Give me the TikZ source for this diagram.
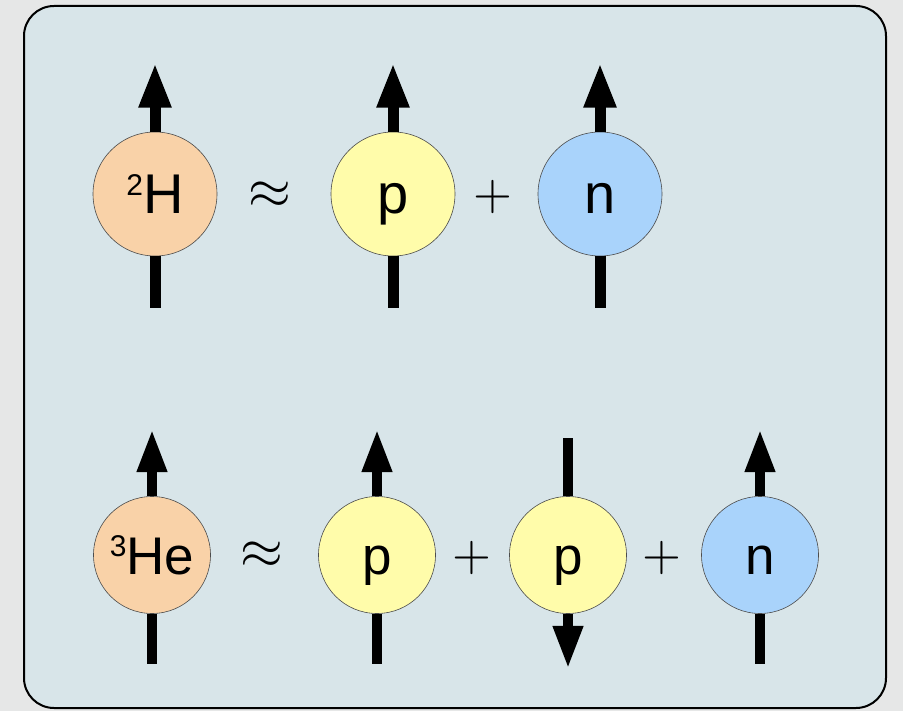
\documentclass[tikz,border=0pt]{standalone}
\usepackage{fontspec}
\setmainfont{Liberation Sans}
\usetikzlibrary{arrows.meta}
\definecolor{pagegray}{HTML}{E6E7E7}
\definecolor{boxblue}{HTML}{D8E5E9}
\definecolor{nucorange}{HTML}{F9D2A8}
\definecolor{protyellow}{HTML}{FFFCAA}
\definecolor{neutblue}{HTML}{A9D3FB}
\newcommand\isotope[2]{\raisebox{.33em}{\fontsize{30}{30}\selectfont#1}#2}
\newcommand\bigapprox{\scalebox{5.5}{$\approx$}}
\newcommand\bigplus{\scalebox{5}{$+$}}
\tikzset{
 nucleon/.style={circle,draw=black!70,line width=.6pt,inner sep=0pt,
  minimum size=124pt,text height=40pt,text depth=0pt,
  font=\fontsize{56}{60}\selectfont},
 rowtwo/.style={minimum size=117pt,text height=38pt,
  font=\fontsize{53}{58}\selectfont},
 spin/.style={line width=11pt,-{Triangle[width=30pt,length=45pt]}},
 spintwo/.style={line width=10pt,-{Triangle[width=28pt,length=43pt]}},
 stub/.style={line width=11pt},
 stubtwo/.style={line width=10pt},
 sign/.style={inner sep=0pt}
}
\begin{document}
\begin{tikzpicture}[x=1pt,y=-1pt]
\fill[pagegray] (0,0) rectangle (903,711);
\useasboundingbox (0,0) rectangle (903,711);
\draw[fill=boxblue,line width=2pt,rounded corners=30pt] (24,6) rectangle (886,708);
% deuteron
\node[nucleon,fill=nucorange] (H2) at (155,194) {\isotope{2}{H}};
\node[sign] (apx1) at (270,195) {\bigapprox};
\node[nucleon,fill=protyellow] (p1) at (393,194) {p};
\node[sign] (plus1) at (493,197) {\bigplus};
\node[nucleon,fill=neutblue] (n1) at (600,194) {n};
\foreach \a in {H2,p1,n1}{
 \coordinate (\a tip) at ([yshift=69pt]\a.north);
 \coordinate (\a end) at ([yshift=-52pt]\a.south);
 \draw[spin] (\a.north) -- (\a tip);
 \draw[stub] (\a.south) -- (\a end);
}
% helium-3
\node[nucleon,rowtwo,fill=nucorange] (He3) at (152,555) {\isotope{3}{He}};
\node[sign] (apx2) at (262,555) {\bigapprox};
\node[nucleon,rowtwo,fill=protyellow] (p2) at (377,555) {p};
\node[sign] (plus2) at (472,558) {\bigplus};
\node[nucleon,rowtwo,fill=protyellow] (p3) at (568,555) {p};
\node[sign] (plus3) at (662,558) {\bigplus};
\node[nucleon,rowtwo,fill=neutblue] (n2) at (760,555) {n};
\foreach \a in {He3,p2,n2}{
 \coordinate (\a tip) at ([yshift=67pt]\a.north);
 \coordinate (\a end) at ([yshift=-50pt]\a.south);
 \draw[spintwo] (\a.north) -- (\a tip);
 \draw[stubtwo] (\a.south) -- (\a end);
}
\coordinate (p3 end) at ([yshift=58pt]p3.north);
\coordinate (p3 tip) at ([yshift=-55pt]p3.south);
\draw[stubtwo] (p3.north) -- (p3 end);
\draw[spintwo] (p3.south) -- (p3 tip);
\end{tikzpicture}
\end{document}
